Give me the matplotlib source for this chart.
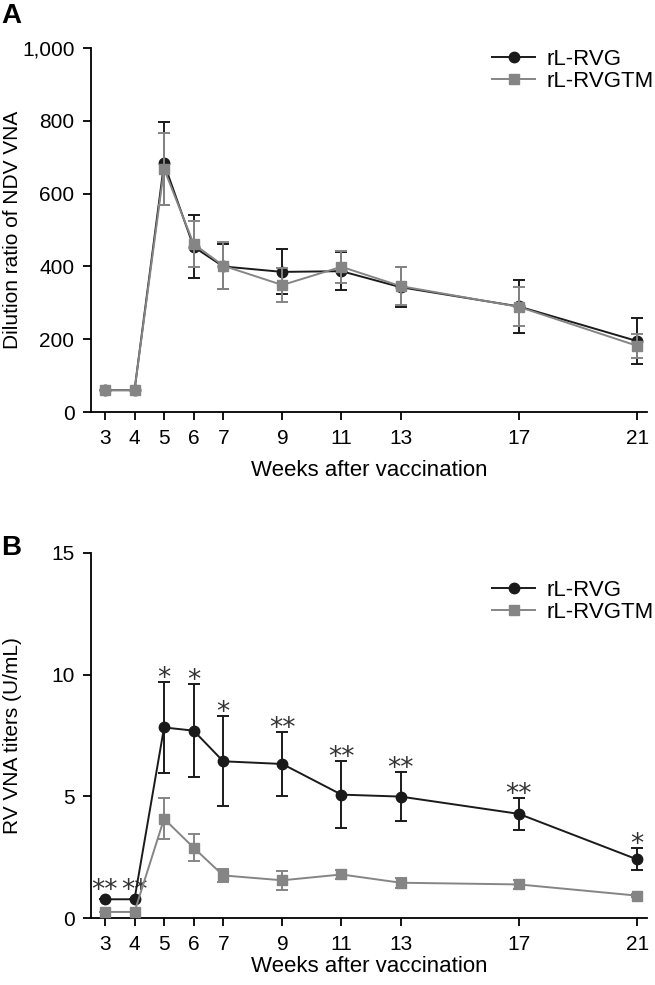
import numpy as np
import matplotlib
matplotlib.use("Agg")
import matplotlib.pyplot as plt
from matplotlib.lines import Line2D
from matplotlib.ticker import FuncFormatter

plt.rcParams['font.family'] = ['Liberation Sans', 'DejaVu Sans']

weeks = [3, 4, 5, 6, 7, 9, 11, 13, 17, 21]

# panel A - NDV VNA dilution ratio
ndv_rvg = [60, 60, 683, 454, 400, 385, 387, 343, 290, 195]
ndv_rvg_err = [0, 0, 113, 87, 62, 62, 52, 55, 73, 62]
ndv_tm = [60, 60, 668, 462, 402, 349, 399, 346, 289, 182]
ndv_tm_err = [0, 0, 100, 63, 64, 48, 44, 53, 54, 33]

# panel B - RV VNA titers
rv_rvg = [0.77, 0.77, 7.83, 7.70, 6.44, 6.33, 5.07, 4.99, 4.28, 2.41]
rv_rvg_err = [0, 0, 1.86, 1.9, 1.85, 1.3, 1.38, 1.0, 0.65, 0.45]
rv_tm = [0.25, 0.25, 4.08, 2.89, 1.75, 1.55, 1.79, 1.45, 1.38, 0.92]
rv_tm_err = [0, 0, 0.85, 0.56, 0.25, 0.4, 0.2, 0.2, 0.2, 0.05]
stars = ['**', '**', '*', '*', '*', '**', '**', '**', '**', '*']

black = '#1a1a1a'
gray = '#858585'
fs = 16

fig = plt.figure(figsize=(6.55, 9.85), dpi=100)
axA = fig.add_axes([0.139, 0.5817, 0.849, 0.3695])
axB = fig.add_axes([0.139, 0.068, 0.849, 0.3706])


def draw(ax, y1, e1, y2, e2, leg_top, xpad):
    ax.errorbar(weeks, y1, yerr=e1, color=black, marker='o', ms=7.5, lw=1.4,
                capsize=4, capthick=1.4, elinewidth=1.4, zorder=3)
    ax.errorbar(weeks, y2, yerr=e2, color=gray, marker='s', ms=7, lw=1.4,
                capsize=4, capthick=1.4, elinewidth=1.4, zorder=4)
    ax.set_xlim(2.53, 21.34)
    ax.set_xticks(weeks)
    for s in ['top', 'right']:
        ax.spines[s].set_visible(False)
    for s in ['left', 'bottom']:
        ax.spines[s].set_linewidth(1.3)
    ax.tick_params(direction='out', length=6, width=1.3, pad=6, labelsize=15)
    ax.set_xlabel('Weeks after vaccination', fontsize=fs, labelpad=xpad)
    ax.yaxis.set_label_coords(-0.124, 0.5)
    handles = [Line2D([], [], color=black, marker='o', ms=7.5, lw=1.4),
               Line2D([], [], color=gray, marker='s', ms=7, lw=1.4)]
    ax.legend(handles, ['rL-RVG', 'rL-RVGTM'], loc='upper right',
              bbox_to_anchor=(0.998, leg_top), bbox_transform=fig.transFigure,
              frameon=False, fontsize=fs, handlelength=1.95, handletextpad=0.5,
              labelspacing=0.05, borderpad=0, borderaxespad=0)


draw(axA, ndv_rvg, ndv_rvg_err, ndv_tm, ndv_tm_err, 1 - 49 / 985, 9)
axA.set_ylim(0, 1000)
axA.set_yticks([0, 200, 400, 600, 800, 1000])
axA.yaxis.set_major_formatter(FuncFormatter(lambda v, p: f"{v:,.0f}"))
axA.set_ylabel('Dilution ratio of NDV VNA', fontsize=15)

draw(axB, rv_rvg, rv_rvg_err, rv_tm, rv_tm_err, 1 - 580 / 985, 2)
axB.set_ylim(0, 15)
axB.set_yticks([0, 5, 10, 15])
axB.set_ylabel('RV VNA titers (U/mL)', fontsize=15)
for w, v, e, s in zip(weeks, rv_rvg, rv_rvg_err, stars):
    base = v + e - 0.15 if e > 0 else v + 0.06
    axB.text(w, base, s, ha='center', va='baseline', fontsize=19,
             family='DejaVu Sans', color='#333333')

fig.text(0.002, 0.997, 'A', fontsize=20, fontweight='bold', va='top', ha='left')
fig.text(0.002, 0.457, 'B', fontsize=20, fontweight='bold', va='top', ha='left')

fig.savefig('out.png', dpi=100)
